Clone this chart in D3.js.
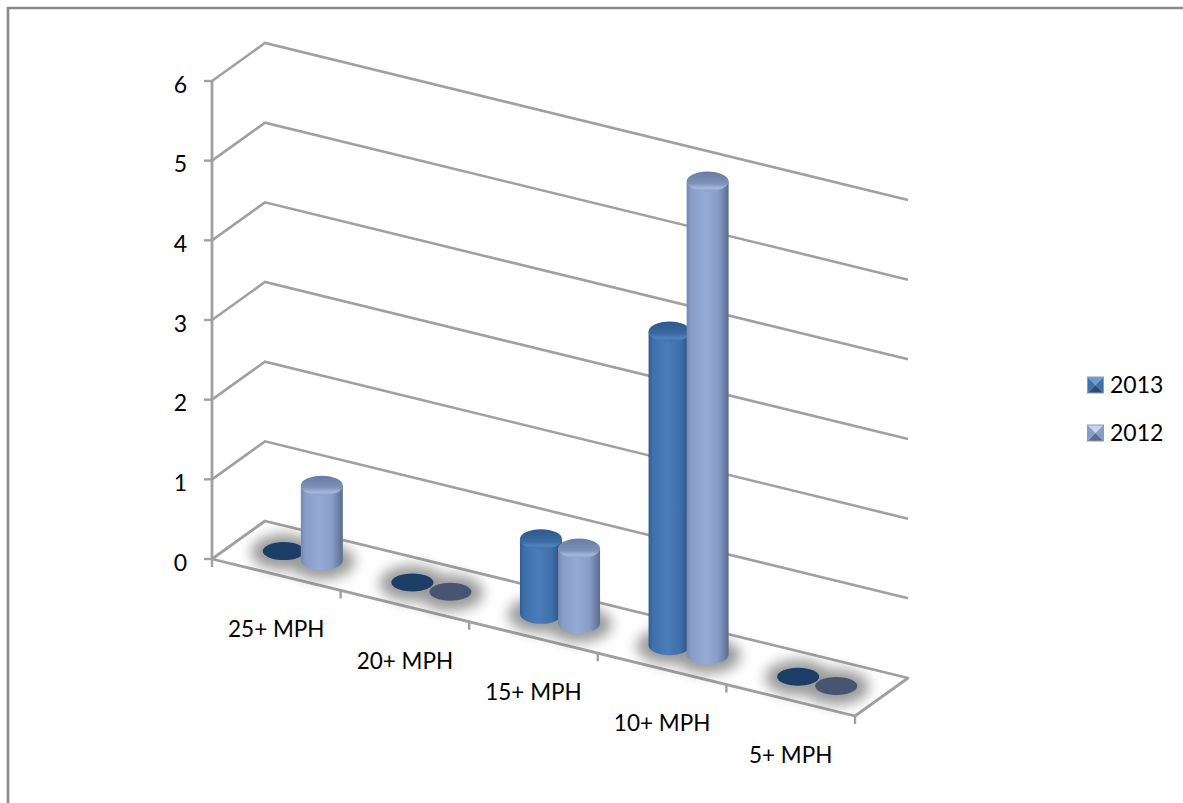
<!DOCTYPE html>
<html>
<head>
<meta charset="utf-8">
<script src="https://cdnjs.cloudflare.com/ajax/libs/d3/7.8.5/d3.min.js"></script>
<style>
  html, body { margin: 0; padding: 0; background: #fff; }
  svg { display: block; }
  text { font-family: Lato, "Open Sans", sans-serif; fill: #000; }
</style>
</head>
<body>
<svg id="chart" width="1183" height="803"></svg>
<script>
// Wind-speed categories and the two yearly series
const categories = ["25+ MPH", "20+ MPH", "15+ MPH", "10+ MPH", "5+ MPH"];
const seriesNames = ["2013", "2012"];
const values2013 = [0, 0, 1, 4, 0];
const values2012 = [1, 0, 1, 6, 0];
const yTicks = [0, 1, 2, 3, 4, 5, 6];

const seriesValues = { "2013": values2013, "2012": values2012 };
const seriesStyle = {
  "2013": { edgeL: "#2f5c92", edgeR: "#264c7c", mid: "#3f70aa", light: "#4a7cb9", capEdge: "#2e5a8e", capMid: "#3a699e", capLip: "#4f82bd", disc: "#1f3d66", keyLight: "#6d9bd0" },
  "2012": { edgeL: "#7588ad", edgeR: "#5a6c8f", mid: "#879dc6", light: "#95abd5", capEdge: "#687ca2", capMid: "#7d92b9", capLip: "#a4b8de", disc: "#46546f", keyLight: "#c9d5ec" }
};

const svg = d3.select("#chart");
const defs = svg.append("defs");

// Oblique projection: position along the floor, depth into the chart, value upward
const xAlong = d3.scaleLinear().domain([0, categories.length]).range([0, 643]);
const slope = d3.scaleLinear().domain([0, categories.length]).range([0, 157]);
const yValue = d3.scaleLinear().domain([0, 6]).range([559, 81]);
const depthX = d3.scaleLinear().domain([0, 1]).range([0, 53]);
const depthY = d3.scaleLinear().domain([0, 1]).range([0, -38]);
const originX = 212;
const project = (u, d, v) => [
  originX + xAlong(u) + depthX(d),
  yValue(v) + slope(u) + depthY(d)
];
const line = d3.line();

// Slots inside each category for the paired cylinders
const slot = d3.scaleBand().domain(seriesNames).range([0.204, 0.796]).padding(0);
const capInset = 5;
const rx = 21, ry = 10;

const gridColor = "#a0a0a0";

// Filters: wide blur for floor shadows, slight softening for lines and cylinders
const blur = defs.append("filter").attr("id", "softShadow")
  .attr("filterUnits", "userSpaceOnUse")
  .attr("x", 0).attr("y", 0).attr("width", 1183).attr("height", 803);
blur.append("feGaussianBlur").attr("stdDeviation", 6.5);
const soft = defs.append("filter").attr("id", "softEdge")
  .attr("filterUnits", "userSpaceOnUse")
  .attr("x", 0).attr("y", 0).attr("width", 1183).attr("height", 803);
soft.append("feGaussianBlur").attr("stdDeviation", 0.55);

// Outer frame
svg.append("path")
  .attr("d", line([[8, 803], [8, 8], [1183, 8]]))
  .attr("fill", "none").attr("stroke", "#8a8a8a").attr("stroke-width", 2.6);

const frameLines = svg.append("g").attr("filter", "url(#softEdge)");

// Floor panel
const floorCorners = [project(0, 0, 0), project(0, 1, 0), project(5, 1, 0), project(5, 0, 0)];
frameLines.append("path")
  .attr("d", line(floorCorners) + "Z")
  .attr("fill", "#fff").attr("stroke", gridColor).attr("stroke-width", 2.8).attr("stroke-linejoin", "round");

// Gridlines running up the side wall and along the back wall
const grid = frameLines.append("g").attr("fill", "none").attr("stroke", gridColor).attr("stroke-width", 2.6);
yTicks.filter(v => v > 0).forEach(v => {
  grid.append("path").attr("d", line([project(0, 0, v), project(0, 1, v), project(5, 1, v)]));
});

// Value axis
const axis = frameLines.append("g").attr("stroke", gridColor);
axis.append("line")
  .attr("x1", originX).attr("x2", originX)
  .attr("y1", yValue(6)).attr("y2", yValue(0))
  .attr("stroke-width", 2.8);
yTicks.forEach(v => {
  axis.append("line")
    .attr("x1", originX - 8).attr("x2", originX)
    .attr("y1", yValue(v)).attr("y2", yValue(v))
    .attr("stroke-width", 2.4);
  svg.append("text")
    .attr("x", 187).attr("y", yValue(v) + 11.5)
    .attr("text-anchor", "end").attr("font-size", 23)
    .text(v);
});

// Category ticks and labels along the front edge
d3.range(categories.length + 1).forEach(i => {
  const [x, y] = project(i, 0, 0);
  axis.append("line")
    .attr("x1", x).attr("x2", x).attr("y1", y).attr("y2", y + 8)
    .attr("stroke-width", 2.4);
});
categories.forEach((c, i) => {
  const [x, y] = project(i + 0.5, 0, 0);
  svg.append("text")
    .attr("x", x).attr("y", y + 62.5)
    .attr("text-anchor", "middle").attr("font-size", 22.5)
    .text(c);
});

// Cylinder shading
seriesNames.forEach(name => {
  const s = seriesStyle[name];
  const body = defs.append("linearGradient").attr("id", "body" + name);
  [[0, s.edgeL], [0.1, s.mid], [0.45, s.light], [0.75, s.mid], [1, s.edgeR]].forEach(([o, c]) =>
    body.append("stop").attr("offset", o).attr("stop-color", c));
  const cap = defs.append("linearGradient").attr("id", "cap" + name)
    .attr("x1", 0).attr("x2", 0).attr("y1", 0).attr("y2", 1);
  [[0, s.capEdge], [0.6, s.capMid], [0.82, s.capLip], [1, s.mid]].forEach(([o, c]) =>
    cap.append("stop").attr("offset", o).attr("stop-color", c));
});

// Floor shadows sit under every cylinder of a category
const shadows = svg.append("g").attr("filter", "url(#softShadow)").attr("opacity", 0.62);
const bars = svg.append("g");

categories.forEach((c, i) => {
  seriesNames.forEach(name => {
    const u = i + slot(name) + slot.bandwidth() / 2;
    const [cx, baseY] = project(u, 0.5, 0);
    shadows.append("ellipse")
      .attr("cx", cx).attr("cy", baseY + 1)
      .attr("rx", rx + 12).attr("ry", ry + 8)
      .attr("fill", "#5c5c5c");
  });
  seriesNames.forEach(name => {
    const v = seriesValues[name][i];
    const s = seriesStyle[name];
    const u = i + slot(name) + slot.bandwidth() / 2;
    const [cx, baseY] = project(u, 0.5, 0);
    if (v === 0) {
      // A zero reading collapses to a flat disc on the floor
      bars.append("ellipse")
        .attr("cx", cx).attr("cy", baseY)
        .attr("rx", rx).attr("ry", ry - 1)
        .attr("fill", s.disc).attr("filter", "url(#softEdge)");
      return;
    }
    const [, topRaw] = project(u, 0.5, v);
    const topY = topRaw + capInset;
    const g = bars.append("g").attr("filter", "url(#softEdge)");
    g.append("path")
      .attr("d", `M${cx - rx},${topY} L${cx - rx},${baseY} A${rx},${ry} 0 0 0 ${cx + rx},${baseY} L${cx + rx},${topY} Z`)
      .attr("fill", `url(#body${name})`);
    g.append("ellipse")
      .attr("cx", cx).attr("cy", topY)
      .attr("rx", rx).attr("ry", ry)
      .attr("fill", `url(#cap${name})`);
  });
});

// Legend with bevelled square keys
const legendY = { "2013": 385, "2012": 433 };
const keyHalf = 8;
seriesNames.forEach(name => {
  const s = seriesStyle[name];
  const cx = 1095.5, cy = legendY[name];
  const k = svg.append("g");
  const tl = [cx - keyHalf, cy - keyHalf], tr = [cx + keyHalf, cy - keyHalf];
  const br = [cx + keyHalf, cy + keyHalf], bl = [cx - keyHalf, cy + keyHalf], c0 = [cx, cy];
  k.append("path").attr("d", line([tl, tr, c0]) + "Z").attr("fill", s.keyLight);
  k.append("path").attr("d", line([tr, br, c0]) + "Z").attr("fill", s.mid);
  k.append("path").attr("d", line([br, bl, c0]) + "Z").attr("fill", s.edgeR);
  k.append("path").attr("d", line([bl, tl, c0]) + "Z").attr("fill", s.mid);
  k.append("rect").attr("x", cx - keyHalf).attr("y", cy - keyHalf)
    .attr("width", keyHalf * 2).attr("height", keyHalf * 2)
    .attr("fill", "none").attr("stroke", "#8f9bb0").attr("stroke-width", 1);
  svg.append("text")
    .attr("x", 1110).attr("y", cy + 8)
    .attr("font-size", 23).text(name);
});
</script>
</body>
</html>
